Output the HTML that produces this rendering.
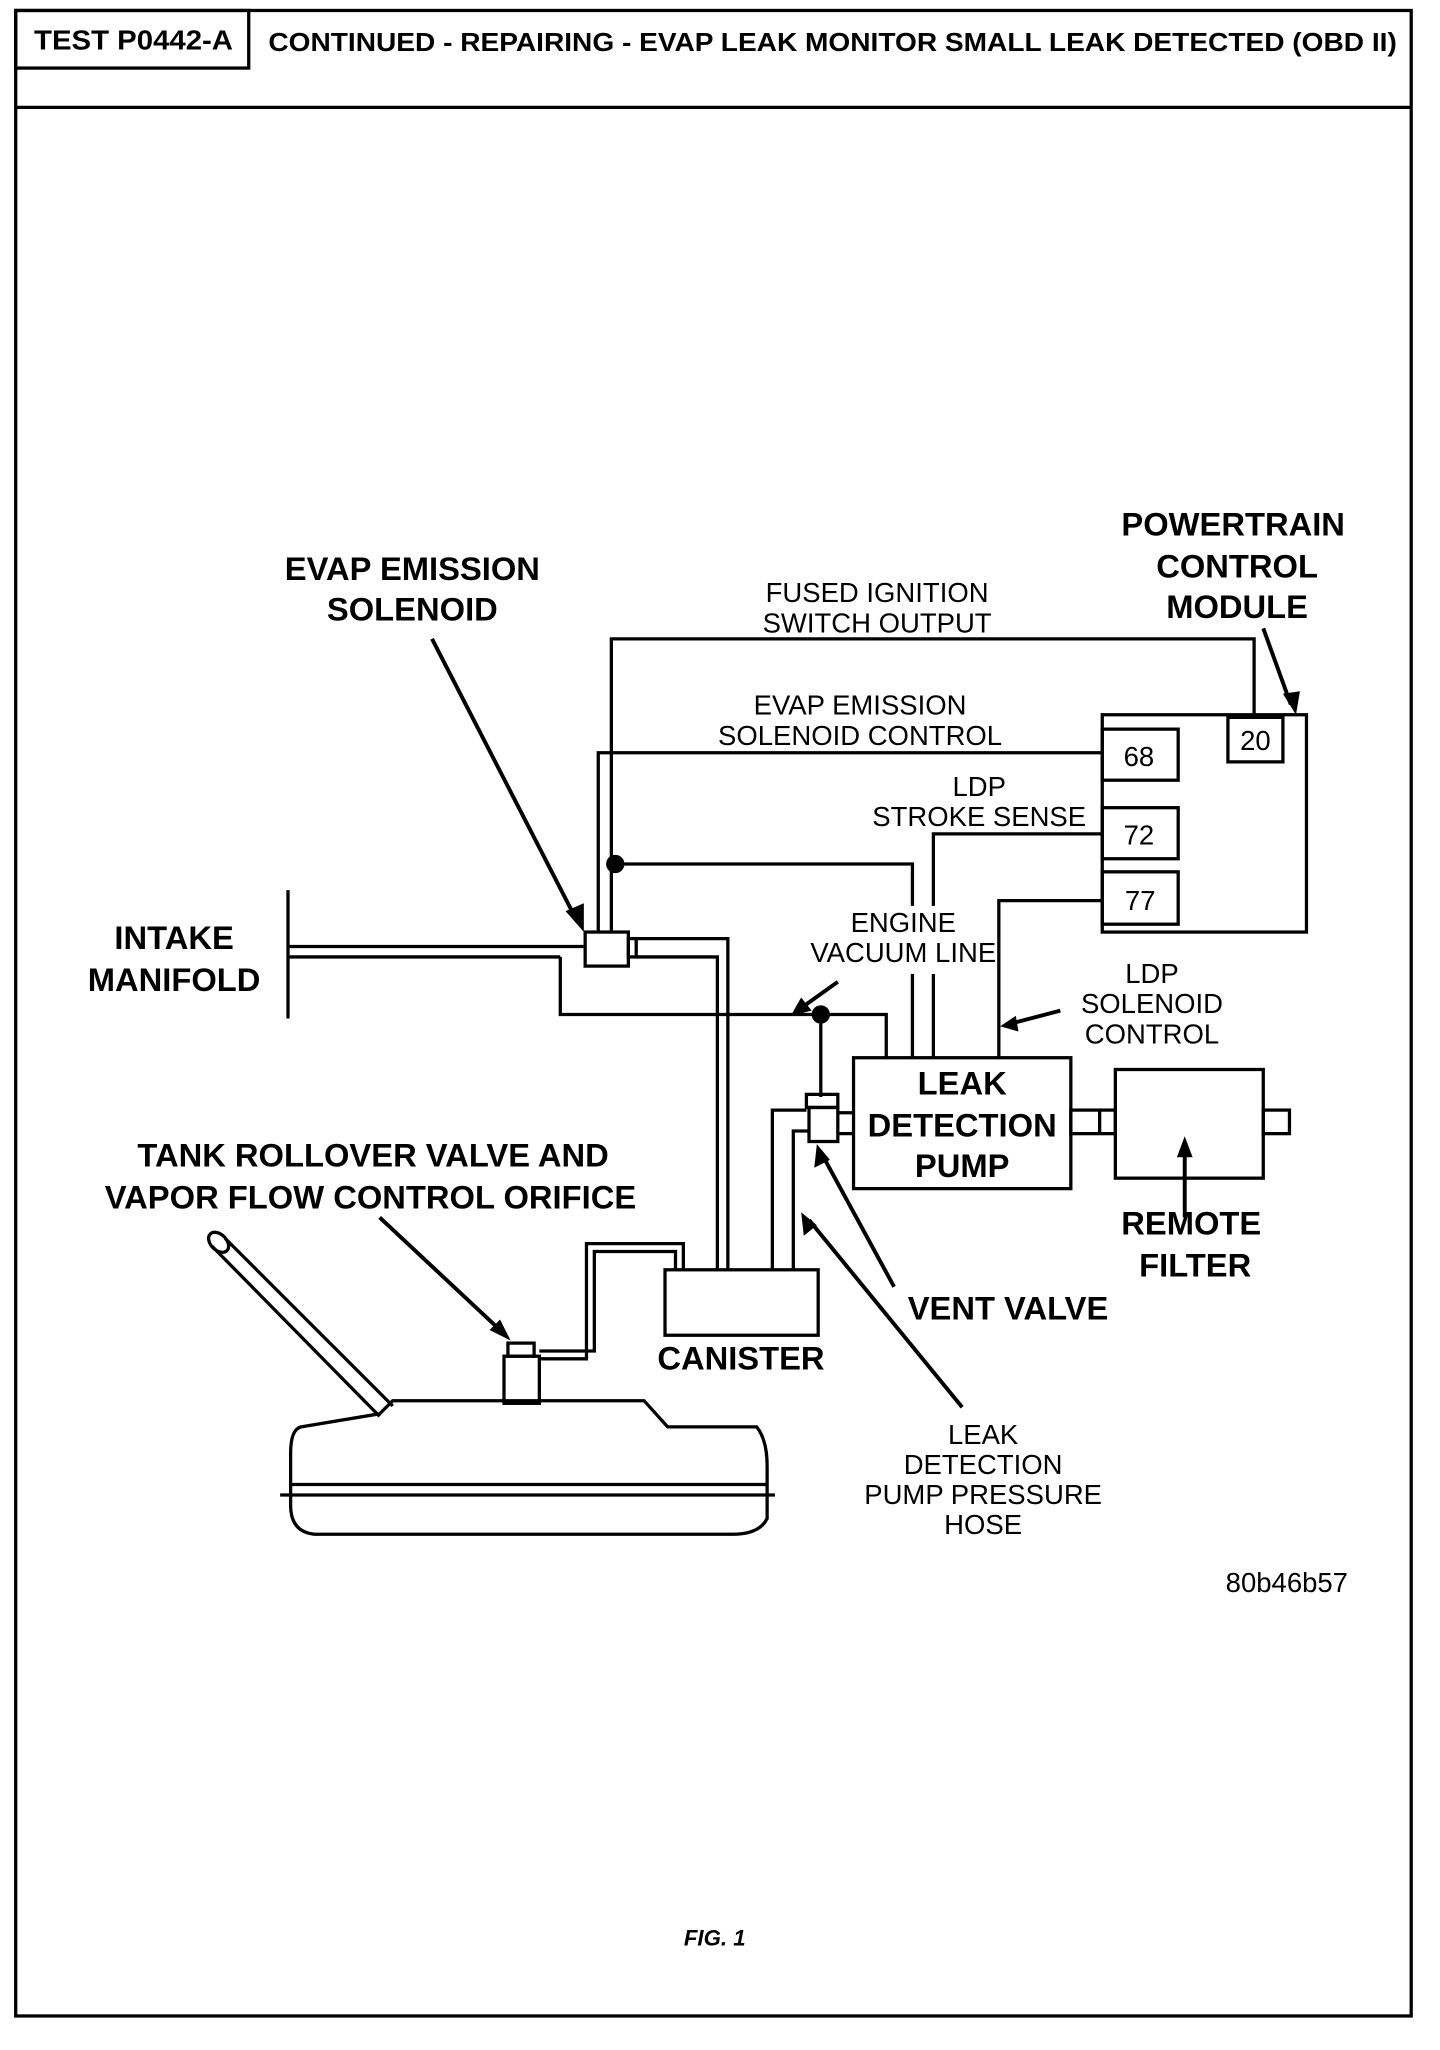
<!DOCTYPE html>
<html><head><meta charset="utf-8"><style>
html,body{margin:0;padding:0;background:#fff}
svg{display:block}
text{font-family:"Liberation Sans",Arial,sans-serif;fill:#000}
.b{font-weight:bold}
</style></head><body>
<svg width="1440" height="2050" viewBox="0 0 1100 1566" preserveAspectRatio="none" xmlns="http://www.w3.org/2000/svg">
<g fill="none" stroke="#000" stroke-width="2.5">
<rect x="12" y="8" width="1066" height="1532"/>
<line x1="12" y1="82" x2="1078" y2="82"/>
<rect x="12" y="8" width="178" height="44"/>
<rect x="842" y="546" width="156" height="166"/>
<rect x="842" y="557" width="58" height="39"/>
<rect x="842" y="617" width="58" height="39"/>
<rect x="842" y="666" width="58" height="40"/>
<rect x="938" y="548" width="42" height="34"/>
<polyline points="467,712 467,488 958,488 958,548"/>
<polyline points="457,712 457,575 842,575"/>
<polyline points="470,660 697,660 697,808"/>
<polyline points="713,808 713,637 842,637"/>
<polyline points="763,808 763,688 842,688"/>
<line x1="220" y1="680" x2="220" y2="778"/>
<line x1="220" y1="723" x2="447" y2="723"/>
<line x1="220" y1="731" x2="428" y2="731"/>
<rect x="447" y="712" width="33" height="26"/>
<rect x="480" y="717" width="6" height="14"/>
<polyline points="486,717 556,717 556,970"/>
<polyline points="486,731 548,731 548,970"/>
<polyline points="428,731 428,775 677,775 677,808"/>
<line x1="627" y1="775" x2="627" y2="838"/>
<rect x="652" y="808" width="166" height="100"/>
<rect x="852" y="817" width="113" height="83"/>
<rect x="818" y="848" width="34" height="18"/>
<line x1="840" y1="848" x2="840" y2="866"/>
<rect x="965" y="848" width="20" height="18"/>
<rect x="616" y="836" width="24" height="10"/>
<rect x="618" y="846" width="22" height="26"/>
<line x1="640" y1="850" x2="652" y2="850"/><line x1="640" y1="866" x2="652" y2="866"/>
<polyline points="616,848 590,848 590,970"/>
<polyline points="618,864 606,864 606,970"/>
<rect x="508" y="970" width="117" height="50"/>
<polyline points="522,970 522,950 448,950 448,1038 412,1038"/>
<polyline points="516,970 516,956 454,956 454,1032 412,1032"/>
<rect x="388" y="1026" width="20" height="10"/>
<rect x="385" y="1036" width="27" height="36"/>
<path d="M230,1090 L290,1080 L300,1070 L492,1070 L510,1090 L578,1090 Q586,1100 586,1120 L586,1160 Q580,1172 560,1172 L240,1172 Q222,1170 222,1150 L222,1110 Q222,1092 230,1090 Z"/>
<line x1="214" y1="1142" x2="592" y2="1142"/>
<line x1="222" y1="1134" x2="586" y2="1134"/>
<line x1="162" y1="952" x2="290" y2="1082"/>
<line x1="172" y1="946" x2="300" y2="1074"/>
<ellipse cx="167" cy="949" rx="6" ry="9" transform="rotate(-45 167 949)"/>
</g>
<rect x="612" y="692" width="146" height="52" fill="#fff"/>
<circle cx="470" cy="660" r="7"/>
<circle cx="627" cy="775" r="7"/>
<g stroke="#000" stroke-width="3" fill="none">
<line x1="330" y1="488" x2="440" y2="702"/>
<line x1="965" y1="480" x2="986" y2="538"/>
<line x1="640" y1="750" x2="612" y2="770"/>
<line x1="810" y1="772" x2="772" y2="782"/>
<line x1="905" y1="930" x2="905" y2="878"/>
<line x1="683" y1="983" x2="628" y2="882"/>
<line x1="735" y1="1075" x2="618" y2="932"/>
<line x1="290" y1="930" x2="382" y2="1016"/>
</g>
<g fill="#000">
<polygon points="446,712 432,696 446,690"/>
<polygon points="990,546 980,530 993,528"/>
<polygon points="604,776 612,762 620,772"/>
<polygon points="764,784 776,776 778,788"/>
<polygon points="905,868 899,884 911,884"/>
<polygon points="624,874 622,892 634,886"/>
<polygon points="612,926 614,944 624,936"/>
<polygon points="390,1024 374,1016 382,1008"/>
</g>
<text class="b" x="26" y="38" font-size="21" textLength="152" lengthAdjust="spacingAndGlyphs">TEST P0442-A</text>
<text class="b" x="205" y="39" font-size="20" textLength="862" lengthAdjust="spacingAndGlyphs">CONTINUED - REPAIRING - EVAP LEAK MONITOR SMALL LEAK DETECTED (OBD II)</text>
<g class="b" font-size="25" text-anchor="middle">
<text x="315" y="443" class="b">EVAP EMISSION</text><text x="315" y="474" class="b">SOLENOID</text>
<text x="942" y="409" class="b">POWERTRAIN</text><text x="945" y="441" class="b">CONTROL</text><text x="945" y="472" class="b">MODULE</text>
<text x="133" y="725" class="b">INTAKE</text><text x="133" y="757" class="b">MANIFOLD</text>
<text x="285" y="891" class="b">TANK ROLLOVER VALVE AND</text><text x="283" y="923" class="b">VAPOR FLOW CONTROL ORIFICE</text>
<text x="735" y="836" class="b">LEAK</text><text x="735" y="868" class="b">DETECTION</text><text x="735" y="899" class="b">PUMP</text>
<text x="910" y="943" class="b">REMOTE</text><text x="913" y="975" class="b">FILTER</text>
<text x="770" y="1008" class="b">VENT VALVE</text>
<text x="566" y="1046" class="b">CANISTER</text>
</g>
<g font-size="21" text-anchor="middle">
<text x="670" y="460">FUSED IGNITION</text><text x="670" y="483">SWITCH OUTPUT</text>
<text x="657" y="546">EVAP EMISSION</text><text x="657" y="569">SOLENOID CONTROL</text>
<text x="748" y="608">LDP</text><text x="748" y="631">STROKE SENSE</text>
<text x="690" y="712">ENGINE</text><text x="690" y="735">VACUUM LINE</text>
<text x="880" y="751">LDP</text><text x="880" y="774">SOLENOID</text><text x="880" y="797">CONTROL</text>
<text x="751" y="1103">LEAK</text><text x="751" y="1126">DETECTION</text><text x="751" y="1149">PUMP PRESSURE</text><text x="751" y="1172">HOSE</text>
<text x="870" y="585">68</text><text x="870" y="645">72</text><text x="871" y="695">77</text><text x="959" y="573">20</text>
<text x="983" y="1216">80b46b57</text>
</g>
<text x="546" y="1486" font-size="17" font-weight="bold" font-style="italic" text-anchor="middle">FIG. 1</text>
</svg>
</body></html>
